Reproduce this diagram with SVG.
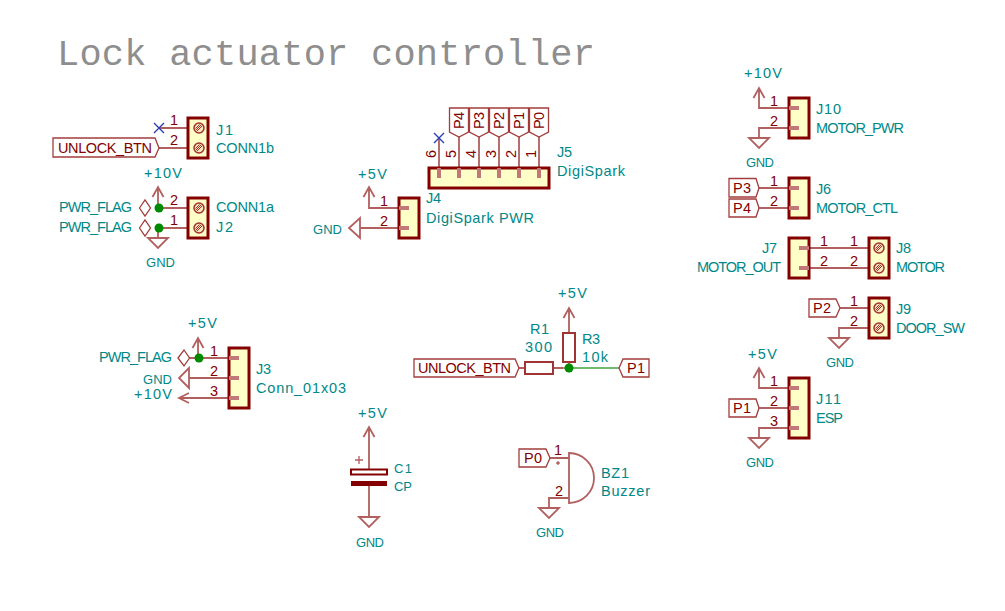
<svg xmlns="http://www.w3.org/2000/svg" width="1005" height="611" viewBox="0 0 1005 611">
<style>
text{font-family:"Liberation Sans",Arial,sans-serif;font-size:14.500px}
.t{fill:#008888}.n{fill:#840000}.l{fill:#840000}
.g{font-size:13px}
.title{fill:#8e8e8e;font-family:"Liberation Mono",monospace;font-size:37px}
.p{fill:none;stroke:#b25f5f;stroke-width:1.800;stroke-linejoin:miter}
.w{fill:none;stroke:#6fba6f;stroke-width:2}
.b{fill:#ffffc8;stroke:#840000;stroke-width:3}
.s{fill:none;stroke:#c07878;stroke-width:4}
.h{fill:#fff;stroke:#a33c3c;stroke-width:1.300}
.x{fill:none;stroke:#2a3fb0;stroke-width:1.400}
.j{fill:#008a00}
.c{fill:#f6e7b8;stroke:#a03030;stroke-width:1.500}
.d{fill:none;stroke:#a03030;stroke-width:1}
</style>
<defs>
<g id="term"><circle class="c" r="5"/><path class="d" d="M-3,2 L2,-3 M-2,3 L3,-2 M-3.500,0.500 L0.500,-3.500"/></g>
<path id="up" class="p" d="M-5.500,10 L0,0 L5.500,10 M0,0 V10"/>
<path id="gnd" class="p" d="M-10,0 H10 L0,10 Z"/>
<path id="flag" class="h" d="M-5.500,0 L0,-8 L5.500,0 L0,8 Z"/>
</defs>
<text class="title" x="57" y="65" textLength="538">Lock actuator controller</text>

<g id="connectors">
<path class="p" d="M159,128 H188 M159,148 H188 M158,197 V208 M158,208 H188 M158,228 H188 M158,228 V238"/>
<path class="p" d="M439,138 V168 M459,137 V168 M479,137 V168 M499,137 V168 M519,137 V168 M539,137 V168"/>
<path class="p" d="M369,197 V208 H399 M360,228 H399"/>
<path class="p" d="M198,348 V358 M189,358 H229 M189,378 H229 M189,398 H229"/>
<path class="p" d="M369,437 V469 M369,486 V517"/>
<path class="p" d="M519,368 H525 M553,368 H563 M569,318 V333 M569,362 V368"/>
<path class="w" d="M563,368 H619"/>
<path class="p" d="M550,458 H569 M569,498 H549 V508"/>
<path class="p" d="M759,98 V108 H789 M789,128 H759 V138"/>
<path class="p" d="M759,188 H789 M759,208 H789"/>
<path class="p" d="M809,248 H869 M809,268 H869"/>
<path class="p" d="M840,308 H869 M869,328 H839 V338"/>
<path class="p" d="M759,378 V388 H789 M759,408 H789 M789,428 H759 V438"/>
</g>

<g id="J1"><rect class="b" x="188" y="118" width="20" height="40"/><use href="#term" x="199" y="128"/><use href="#term" x="199" y="148"/>
<path class="x" d="M154,123 L164,133 M154,133 L164,123"/>
<text class="n" x="170" y="125">1</text><text class="n" x="170" y="145">2</text>
<text class="t" x="216" y="135" textLength="17">J1</text><text class="t" x="216" y="153" textLength="58">CONN1b</text></g>
<g id="UNLOCK_BTN_1"><path class="h" d="M53,138 H155 L159,148 L155,157 H53 Z"/><text class="l" x="58" y="153" textLength="94">UNLOCK_BTN</text></g>

<g id="J2"><rect class="b" x="188" y="198" width="20" height="40"/><use href="#term" x="199" y="208"/><use href="#term" x="199" y="228"/>
<text class="n" x="170" y="205">2</text><text class="n" x="170" y="225">1</text>
<text class="t" x="216" y="212" textLength="58">CONN1a</text><text class="t" x="216" y="232" textLength="17">J2</text></g>
<g id="pwr10a"><use href="#up" x="158" y="187"/><text class="t" x="144" y="178" textLength="38">+10V</text></g>
<g id="flag1"><use href="#flag" x="145" y="208"/><text class="t" x="59" y="212" textLength="73">PWR_FLAG</text></g>
<g id="flag2"><use href="#flag" x="145" y="228"/><text class="t" x="59" y="232" textLength="73">PWR_FLAG</text></g>
<g id="gnd1"><use href="#gnd" x="158" y="238"/><text class="t g" x="146" y="267" textLength="29">GND</text></g>
<circle class="j" cx="159" cy="208" r="4.500"/><circle class="j" cx="159" cy="228" r="4.500"/>

<g id="J5"><rect class="b" x="429" y="168" width="120" height="20"/>
<path class="s" d="M439,168 V178 M459,168 V178 M479,168 V178 M499,168 V178 M519,168 V178 M539,168 V178"/>
<path class="x" d="M434,133 L444,143 M434,143 L444,133"/>
<text class="n" transform="translate(436,158) rotate(-90)">6</text><text class="n" transform="translate(456,158) rotate(-90)">5</text><text class="n" transform="translate(476,158) rotate(-90)">4</text><text class="n" transform="translate(496,158) rotate(-90)">3</text><text class="n" transform="translate(516,158) rotate(-90)">2</text><text class="n" transform="translate(536,158) rotate(-90)">1</text>
<text class="t" x="557" y="157" textLength="15">J5</text><text class="t" x="557" y="176" textLength="68">DigiSpark</text></g>
<g id="P4a"><path class="h" d="M449.500,108 H468.500 V132 L459,137 L449.500,132 Z"/><text class="l" transform="translate(464,129) rotate(-90)" textLength="17">P4</text></g>
<g id="P3a"><path class="h" d="M469.500,108 H488.500 V132 L479,137 L469.500,132 Z"/><text class="l" transform="translate(484,129) rotate(-90)" textLength="17">P3</text></g>
<g id="P2a"><path class="h" d="M489.500,108 H508.500 V132 L499,137 L489.500,132 Z"/><text class="l" transform="translate(504,129) rotate(-90)" textLength="17">P2</text></g>
<g id="P1a"><path class="h" d="M509.500,108 H528.500 V132 L519,137 L509.500,132 Z"/><text class="l" transform="translate(524,129) rotate(-90)" textLength="17">P1</text></g>
<g id="P0a"><path class="h" d="M529.500,108 H548.500 V132 L539,137 L529.500,132 Z"/><text class="l" transform="translate(544,129) rotate(-90)" textLength="17">P0</text></g>

<g id="J4"><rect class="b" x="399" y="198" width="20" height="40"/><path class="s" d="M399,208 H409 M399,228 H409"/>
<text class="n" x="380" y="206">1</text><text class="n" x="380" y="226">2</text>
<text class="t" x="426" y="203" textLength="15">J4</text><text class="t" x="426" y="223" textLength="108">DigiSpark PWR</text></g>
<g id="pwr5a"><use href="#up" x="369" y="187"/><text class="t" x="358" y="179" textLength="29">+5V</text></g>
<g id="gnd2"><path class="p" d="M360,218 V238 L349,228 Z"/><text class="t g" x="313" y="234" textLength="29">GND</text></g>

<g id="J3"><rect class="b" x="229" y="348" width="20" height="60"/><path class="s" d="M229,358 H239 M229,378 H239 M229,398 H239"/>
<text class="n" x="210" y="356">1</text><text class="n" x="210" y="376">2</text><text class="n" x="210" y="396">3</text>
<text class="t" x="256" y="374" textLength="15">J3</text><text class="t" x="256" y="393" textLength="90">Conn_01x03</text></g>
<g id="pwr5b"><use href="#up" x="198" y="338"/><text class="t" x="188" y="328" textLength="29">+5V</text></g>
<g id="flag3"><path class="h" d="M178,358 L184,350 L189.500,358 L184,366 Z"/><text class="t" x="99" y="362" textLength="73">PWR_FLAG</text></g>
<circle class="j" cx="199" cy="358" r="4.500"/>
<g id="gnd3"><path class="p" d="M189,368 V388 L179,378 Z"/><text class="t g" x="143" y="384" textLength="29">GND</text></g>
<g id="pwr10b"><path class="p" d="M189,393 L179,398 L189,403 M179,398 H189"/><text class="t" x="134" y="399" textLength="38">+10V</text></g>

<g id="C1"><rect x="351" y="469.500" width="36" height="5" fill="#fff" stroke="#840000" stroke-width="2"/><rect x="351" y="481" width="36" height="5" fill="#840000"/>
<path class="p" d="M355,460 H363 M359,456 V464" style="stroke-width:1.300"/>
<text class="t g" x="394" y="473" textLength="18">C1</text><text class="t g" x="394" y="491" textLength="18">CP</text></g>
<g id="pwr5c"><use href="#up" x="369" y="427"/><text class="t" x="358" y="418" textLength="29">+5V</text></g>
<g id="gnd4"><use href="#gnd" x="369" y="517"/><text class="t g" x="356" y="547" textLength="28">GND</text></g>

<g id="UNLOCK_BTN_2"><path class="h" d="M414,359 H515 L519,368 L515,377 H414 Z"/><text class="l" x="418" y="373" textLength="93">UNLOCK_BTN</text></g>
<g id="R1"><rect x="525" y="362" width="28" height="12" fill="#fff" stroke="#a03434" stroke-width="2"/><text class="t" x="530" y="334" textLength="19">R1</text><text class="t" x="525" y="352" textLength="27">300</text></g>
<g id="R3"><rect x="563" y="333" width="12" height="29" fill="#fff" stroke="#a03434" stroke-width="2"/><text class="t" x="582" y="344" textLength="18">R3</text><text class="t" x="582" y="362" textLength="26">10k</text></g>
<circle class="j" cx="569" cy="368" r="4.500"/>
<g id="pwr5d"><use href="#up" x="569" y="308"/><text class="t" x="558" y="298" textLength="29">+5V</text></g>
<g id="P1b"><path class="h" d="M619,368 L623,359 H649 V377 H623 Z"/><text class="l" x="627" y="373" textLength="18">P1</text></g>

<g id="BZ1"><path class="p" d="M569,453 A25,25 0 0 1 569,503 Z"/>
<path class="d" d="M556,463 H560 M558,461 V465"/>
<text class="n" x="554" y="455">1</text><text class="n" x="555" y="496">2</text>
<text class="t" x="601" y="478" textLength="28">BZ1</text><text class="t" x="601" y="496" textLength="49">Buzzer</text></g>
<g id="P0b"><path class="h" d="M519,449 H546 L550,458 L546,467 H519 Z"/><text class="l" x="524" y="463" textLength="18">P0</text></g>
<g id="gnd5"><use href="#gnd" x="549" y="508"/><text class="t g" x="536" y="537" textLength="28">GND</text></g>

<g id="J10"><rect class="b" x="789" y="98" width="20" height="40"/><path class="s" d="M789,108 H799 M789,128 H799"/>
<text class="n" x="770" y="106">1</text><text class="n" x="770" y="126">2</text>
<text class="t" x="816" y="114" textLength="25">J10</text><text class="t" x="816" y="133" textLength="88">MOTOR_PWR</text></g>
<g id="pwr10c"><use href="#up" x="759" y="88"/><text class="t" x="744" y="78" textLength="38">+10V</text></g>
<g id="gnd6"><use href="#gnd" x="759" y="138"/><text class="t g" x="746" y="167" textLength="28">GND</text></g>

<g id="J6"><rect class="b" x="789" y="178" width="20" height="40"/><path class="s" d="M789,188 H799 M789,208 H799"/>
<text class="n" x="770" y="186">1</text><text class="n" x="770" y="206">2</text>
<text class="t" x="816" y="194" textLength="15">J6</text><text class="t" x="816" y="213" textLength="82">MOTOR_CTL</text></g>
<g id="P3b"><path class="h" d="M729,178.500 H756 L759,188 L756,197 H729 Z"/><text class="l" x="733" y="193" textLength="18">P3</text></g>
<g id="P4b"><path class="h" d="M729,199 H756 L759,208 L756,217 H729 Z"/><text class="l" x="733" y="213" textLength="18">P4</text></g>

<g id="J7"><rect class="b" x="789" y="238" width="20" height="40"/><path class="s" d="M799,248 H809 M799,268 H809"/>
<text class="n" x="820" y="246">1</text><text class="n" x="820" y="266">2</text>
<text class="t" x="762" y="253" textLength="15">J7</text><text class="t" x="697" y="272" textLength="84">MOTOR_OUT</text></g>
<g id="J8"><rect class="b" x="869" y="238" width="20" height="40"/><use href="#term" x="879" y="248"/><use href="#term" x="879" y="268"/>
<text class="n" x="850" y="246">1</text><text class="n" x="850" y="266">2</text>
<text class="t" x="896" y="253" textLength="15">J8</text><text class="t" x="896" y="272" textLength="49">MOTOR</text></g>

<g id="J9"><rect class="b" x="869" y="298" width="20" height="40"/><use href="#term" x="879" y="308"/><use href="#term" x="879" y="328"/>
<text class="n" x="850" y="306">1</text><text class="n" x="850" y="326">2</text>
<text class="t" x="896" y="314" textLength="15">J9</text><text class="t" x="896" y="333" textLength="69">DOOR_SW</text></g>
<g id="P2b"><path class="h" d="M809,299 H836 L840,308 L836,317 H809 Z"/><text class="l" x="813" y="313" textLength="18">P2</text></g>
<g id="gnd7"><use href="#gnd" x="839" y="338"/><text class="t g" x="826" y="367" textLength="28">GND</text></g>

<g id="J11"><rect class="b" x="789" y="378" width="20" height="60"/><path class="s" d="M789,388 H799 M789,408 H799 M789,428 H799"/>
<text class="n" x="770" y="386">1</text><text class="n" x="770" y="406">2</text><text class="n" x="770" y="426">3</text>
<text class="t" x="816" y="404" textLength="25">J11</text><text class="t" x="816" y="423" textLength="27">ESP</text></g>
<g id="pwr5e"><use href="#up" x="759" y="368"/><text class="t" x="748" y="359" textLength="29">+5V</text></g>
<g id="P1c"><path class="h" d="M729,399 H756 L759,408 L756,417 H729 Z"/><text class="l" x="733" y="413" textLength="18">P1</text></g>
<g id="gnd8"><use href="#gnd" x="759" y="438"/><text class="t g" x="746" y="467" textLength="28">GND</text></g>
</svg>
